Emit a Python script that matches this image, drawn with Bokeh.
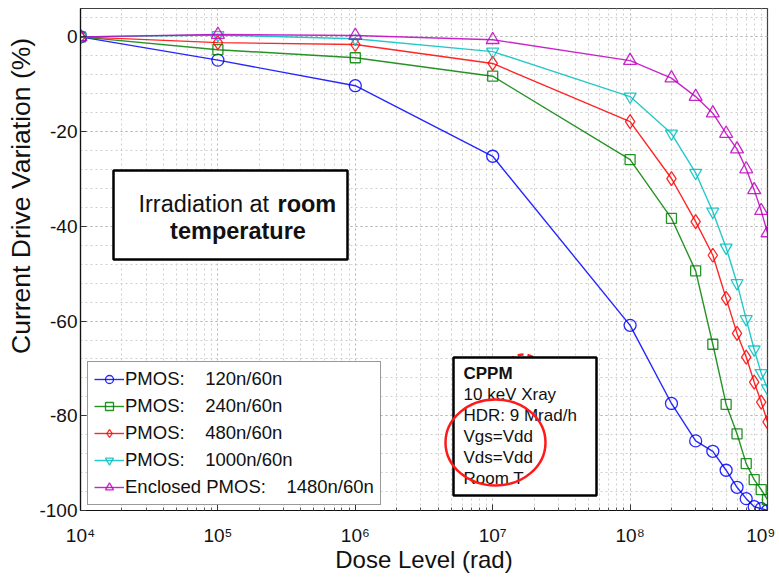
import math
from bokeh.plotting import figure
from bokeh.models import (FixedTicker, Label, BoxAnnotation, Legend, LegendItem,
                          Range1d, Title)
from bokeh.embed import file_html
from bokeh.resources import INLINE

# ---------------- data ----------------
dose = [1e4, 1e5, 1e6, 1e7, 1e8, 2e8, 3e8, 4e8, 5e8, 6e8, 7e8, 8e8, 9e8, 1e9]
pmos_120 = [0, -4.9, -10.3, -25.2, -60.9, -77.4, -85.3, -87.5, -91.5, -95.1, -97.5, -99.2, -99.6, -100.0]
pmos_240 = [0, -2.7, -4.4, -8.3, -25.9, -38.3, -49.4, -64.9, -77.6, -83.8, -90.1, -93.5, -95.6, -97.7]
pmos_480 = [0, -1.2, -1.6, -5.6, -17.9, -29.9, -39.0, -46.1, -55.2, -62.6, -67.6, -72.9, -77.1, -81.3]
pmos_1000 = [0, 0.4, -0.4, -3.1, -12.6, -20.4, -28.7, -36.9, -44.5, -52.0, -59.6, -66.0, -71.0, -74.2]
enclosed_1480 = [0, 0.5, 0.3, -0.6, -5.0, -8.7, -12.6, -16.1, -20.4, -23.7, -27.9, -32.3, -36.7, -41.4]

series_labels = ["PMOS:    120n/60n", "PMOS:    240n/60n", "PMOS:    480n/60n",
                 "PMOS:    1000n/60n", "Enclosed PMOS:    1480n/60n"]
x_ticks = [1e4, 1e5, 1e6, 1e7, 1e8, 1e9]
x_tick_labels = ["10\u2074", "10\u2075", "10\u2076", "10\u2077", "10\u2078", "10\u2079"]
y_ticks = [-100, -80, -60, -40, -20, 0]
y_tick_labels = ["-100", "-80", "-60", "-40", "-20", "0"]

FONT = "Liberation Sans"

# ---------------- layout (canvas pixels of the frame) ----------------
W, H = 775, 573
FL, FR, FT, FB = 80, 767, 8, 510
XMIN, XMAX, YMIN, YMAX = 1e4, 1e9, -100, 6

def dx(px):
    return 10 ** (math.log10(XMIN) + (math.log10(XMAX) - math.log10(XMIN)) * (px - FL) / (FR - FL))

def dy(py):
    return YMAX - (py - FT) * (YMAX - YMIN) / (FB - FT)

p = figure(width=W, height=H, x_axis_type="log",
           x_range=Range1d(XMIN, XMAX), y_range=Range1d(YMIN, YMAX),
           output_backend="svg", toolbar_location=None,
           min_border_left=FL, min_border_right=W - FR,
           min_border_top=FT, min_border_bottom=H - FB)
p.frame_width = FR - FL
p.frame_height = FB - FT
p.background_fill_color = "white"
p.border_fill_color = "white"
p.outline_line_color = "#404040"
p.outline_line_width = 1.2

# axes
p.xaxis.ticker = FixedTicker(ticks=x_ticks,
                             minor_ticks=[k * 10 ** d for d in range(4, 9) for k in range(2, 10)])
p.xaxis.major_label_overrides = {t: l for t, l in zip(x_ticks, x_tick_labels)}
p.yaxis.ticker = FixedTicker(ticks=y_ticks, minor_ticks=list(range(-100, 8, 4)))
p.yaxis.major_label_overrides = {t: l for t, l in zip(y_ticks, y_tick_labels)}
for ax in (p.xaxis[0], p.yaxis[0]):
    ax.major_label_text_font = FONT
    ax.major_label_text_font_size = "19px"
    ax.major_label_text_color = "#111111"
    ax.axis_line_color = "#111111"
    ax.axis_line_width = 1.2
    ax.major_tick_in = 6
    ax.major_tick_out = 0
    ax.minor_tick_in = 3
    ax.minor_tick_out = 0
    ax.major_tick_line_color = "#333333"
    ax.minor_tick_line_color = "#555555"
p.yaxis.minor_tick_line_color = None
p.xaxis.major_label_standoff = 14
p.yaxis.major_label_standoff = 3
p.xaxis.axis_label = "Dose Level (rad)"
p.xaxis.axis_label_text_font = FONT
p.xaxis.axis_label_text_font_size = "24px"
p.xaxis.axis_label_text_font_style = "normal"
p.xaxis.axis_label_text_color = "#111111"
p.xaxis.axis_label_standoff = -3

# grid
for g in (p.xgrid[0], p.ygrid[0]):
    g.grid_line_color = "#b4b4b4"
    g.grid_line_dash = "2 3"
    g.grid_line_width = 1
    g.minor_grid_line_color = "#cfcfcf"
    g.minor_grid_line_dash = "2 3"
    g.minor_grid_line_width = 1

# y axis label, placed towards the top as in the reference
p.add_layout(Title(text="Current Drive Variation  (%)", align="right", offset=22,
                   text_font=FONT, text_font_size="26.5px", text_font_style="normal",
                   text_color="#111111", standoff=1), "left")

# ---------------- series ----------------
colors = ["#0000ff", "#008000", "#ff0000", "#00bfbf", "#bf00bf"]
markers = ["circle", "square", "diamond", "inverted_triangle", "triangle"]
sizes = [12, 10, 14, 12, 13]
data = [pmos_120, pmos_240, pmos_480, pmos_1000, enclosed_1480]
items = []
for ys, c, m, s, lab in zip(data, colors, markers, sizes, series_labels):
    r1 = p.line(dose, ys, line_color=c, line_width=1.4, line_alpha=0.85)
    r2 = p.scatter(dose, ys, marker=m, size=s, line_color=c, line_width=1.3,
                   fill_color=None, line_alpha=0.85)
    items.append(LegendItem(label=lab, renderers=[r1, r2]))

legend = Legend(items=items, location=(7, 5), margin=0, padding=6, spacing=5,
                glyph_width=30, glyph_height=20, label_height=20, label_standoff=1,
                label_text_font=FONT, label_text_font_size="18.5px",
                label_text_color="#111111",
                border_line_color="#999999", border_line_width=1.5, border_line_alpha=1,
                background_fill_color="white", background_fill_alpha=1)
p.add_layout(legend, "center")

# ---------------- annotations ----------------
# partly hidden red mark behind the CPPM box
p.ellipse(x=[dx(523)], y=[dy(402)], width=60, height=96,
          width_units="screen", height_units="screen",
          fill_color=None, line_color="#ff2020", line_width=2.5, line_dash="6 4")

p.add_layout(BoxAnnotation(left=dx(113), right=dx(347), top=dy(170), bottom=dy(259),
                           fill_color="white", fill_alpha=1,
                           line_color="black", line_alpha=1, line_width=2.5))
p.add_layout(Label(x=dx(138), y=dy(203), text="Irradiation at ", text_font=FONT,
                   text_font_size="23.5px", text_baseline="middle", text_align="left",
                   text_color="#111111"))
p.add_layout(Label(x=dx(277), y=dy(203), text="room", text_font=FONT,
                   text_font_size="23.5px", text_font_style="bold",
                   text_baseline="middle", text_align="left", text_color="#111111"))
p.add_layout(Label(x=dx(237.5), y=dy(230), text="temperature", text_font=FONT,
                   text_font_size="23.5px", text_font_style="bold",
                   text_baseline="middle", text_align="center", text_color="#111111"))

p.add_layout(BoxAnnotation(left=dx(453), right=dx(596), top=dy(357), bottom=dy(495),
                           fill_color="white", fill_alpha=1,
                           line_color="black", line_alpha=1, line_width=2.5))
cppm_lines = ["CPPM", "10 keV Xray", "HDR: 9 Mrad/h", "Vgs=Vdd", "Vds=Vdd", "Room T"]
for i, t in enumerate(cppm_lines):
    p.add_layout(Label(x=dx(463), y=dy(373 + 21 * i), text=t, text_font=FONT,
                       text_font_size="17px",
                       text_font_style="bold" if i == 0 else "normal",
                       text_baseline="middle", text_align="left", text_color="#111111"))

red_ring = p.ellipse(x=[dx(495)], y=[dy(442)], width=100, height=86,
                     width_units="screen", height_units="screen",
                     fill_color=None, line_color="#ff1a1a", line_width=2.5)
red_ring.level = "overlay"

open("out.html", "w").write(file_html(p, INLINE))
